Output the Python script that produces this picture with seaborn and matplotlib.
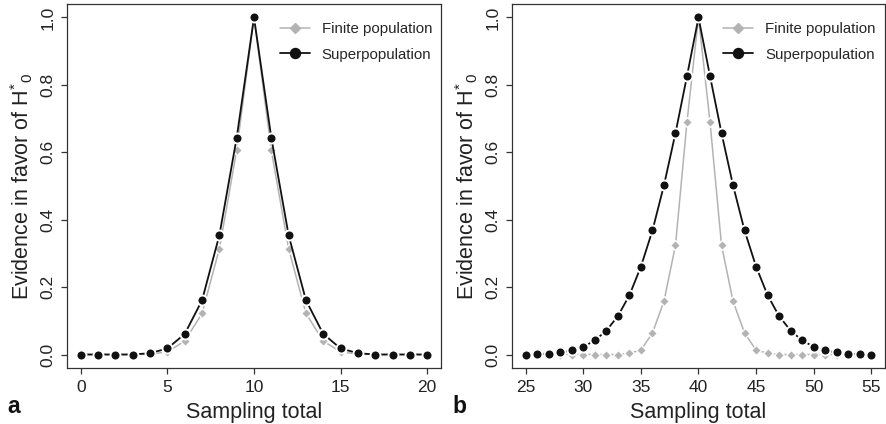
import numpy as np
import pandas as pd
import matplotlib
matplotlib.use("Agg")
import matplotlib.pyplot as plt
import seaborn as sns
from matplotlib.lines import Line2D

sns.set_theme(style="white")
plt.rcParams["font.family"] = ["Liberation Sans", "DejaVu Sans"]
plt.rcParams["mathtext.fontset"] = "custom"
plt.rcParams["mathtext.rm"] = "Liberation Sans"
plt.rcParams["mathtext.it"] = "Liberation Sans"

# Panel a: sampling totals 0..20, peak at 10
totals_a = list(range(0, 21))
finite_a = [0.0, 0.0, 0.0, 0.0, 0.001, 0.008, 0.040, 0.122, 0.314, 0.606, 1.0,
            0.606, 0.314, 0.122, 0.040, 0.008, 0.001, 0.0, 0.0, 0.0, 0.0]
super_a = [0.0, 0.0, 0.0, 0.0, 0.004, 0.018, 0.061, 0.161, 0.354, 0.643, 1.0,
           0.643, 0.354, 0.161, 0.061, 0.018, 0.004, 0.0, 0.0, 0.0, 0.0]

# Panel b: sampling totals 25..55, peak at 40
totals_b = list(range(25, 56))
finite_b = [0.0, 0.0, 0.0, 0.0, 0.0, 0.0, 0.0, 0.0, 0.0, 0.004, 0.013, 0.064,
            0.158, 0.324, 0.690, 1.0, 0.690, 0.324, 0.158, 0.064, 0.013, 0.004,
            0.0, 0.0, 0.0, 0.0, 0.0, 0.0, 0.0, 0.0, 0.0]
super_b = [0.0, 0.001, 0.003, 0.006, 0.012, 0.023, 0.042, 0.071, 0.114, 0.176,
           0.261, 0.368, 0.502, 0.657, 0.826, 1.0, 0.826, 0.657, 0.502, 0.368,
           0.261, 0.176, 0.114, 0.071, 0.042, 0.023, 0.012, 0.006, 0.003, 0.001, 0.0]

series_names = ["Finite population", "Superpopulation"]
GREY = "#b3b3b3"
BLACK = "#111111"
AXCOL = "#333333"

fig = plt.figure(figsize=(8.86, 4.24), dpi=100)
ax_a = fig.add_axes([67 / 886, 56 / 424, 374 / 886, 364 / 424])
ax_b = fig.add_axes([512 / 886, 56 / 424, 373 / 886, 364 / 424])


def draw_panel(ax, x, finite, sup, xticks, letter):
    df = pd.DataFrame({"total": x, "finite": finite, "super": sup})
    sns.lineplot(data=df, x="total", y="finite", ax=ax, color=GREY, lw=1.1,
                 marker="D", markersize=5.0, markerfacecolor=GREY,
                 markeredgecolor="white", markeredgewidth=1.0, zorder=2)
    sns.lineplot(data=df, x="total", y="super", ax=ax, color=BLACK, lw=1.3,
                 marker="o", markersize=7.2, markerfacecolor=BLACK,
                 markeredgecolor="white", markeredgewidth=1.4, zorder=3)
    span = x[-1] - x[0]
    ax.set_xlim(x[0] - 0.04 * span, x[-1] + 0.04 * span)
    ax.set_ylim(-0.04, 1.04)
    ax.set_xticks(xticks)
    ax.set_yticks([0.0, 0.2, 0.4, 0.6, 0.8, 1.0])
    ax.set_yticklabels(["0.0", "0.2", "0.4", "0.6", "0.8", "1.0"],
                       rotation=90, va="center")
    ax.tick_params(axis="both", which="major", direction="out", length=4.5,
                   width=0.9, color=AXCOL, labelsize=12.5, labelcolor="#222222",
                   bottom=True, left=True)
    ax.tick_params(axis="x", pad=4)
    ax.tick_params(axis="y", pad=4)
    for s in ax.spines.values():
        s.set_visible(True)
        s.set_color(AXCOL)
        s.set_linewidth(0.9)
    ax.set_xlabel("Sampling total", fontsize=15.5, color="#222222", labelpad=5)
    ax.set_ylabel(r"Evidence in favor of H$^{*}{}_{0}$", fontsize=15.5,
                  color="#222222", labelpad=4)
    handles = [
        Line2D([], [], color=GREY, lw=1.1, marker="D", markersize=5.0,
               markerfacecolor=GREY, markeredgecolor=GREY),
        Line2D([], [], color=BLACK, lw=1.3, marker="o", markersize=7.2,
               markerfacecolor=BLACK, markeredgecolor=BLACK),
    ]
    ax.legend(handles, series_names, loc="upper right", frameon=False,
              fontsize=10.8, handlelength=2.0, handletextpad=0.8,
              labelspacing=0.75, borderaxespad=0.2, bbox_to_anchor=(1.0, 0.974))
    fig.text(ax.get_position().x0 - 60 / 886, 11 / 424, letter,
             fontsize=16.5, fontweight="bold", color="#111111",
             ha="left", va="baseline")


draw_panel(ax_a, totals_a, finite_a, super_a, [0, 5, 10, 15, 20], "a")
draw_panel(ax_b, totals_b, finite_b, super_b, [25, 30, 35, 40, 45, 50, 55], "b")

fig.savefig("out.png", dpi=100)
